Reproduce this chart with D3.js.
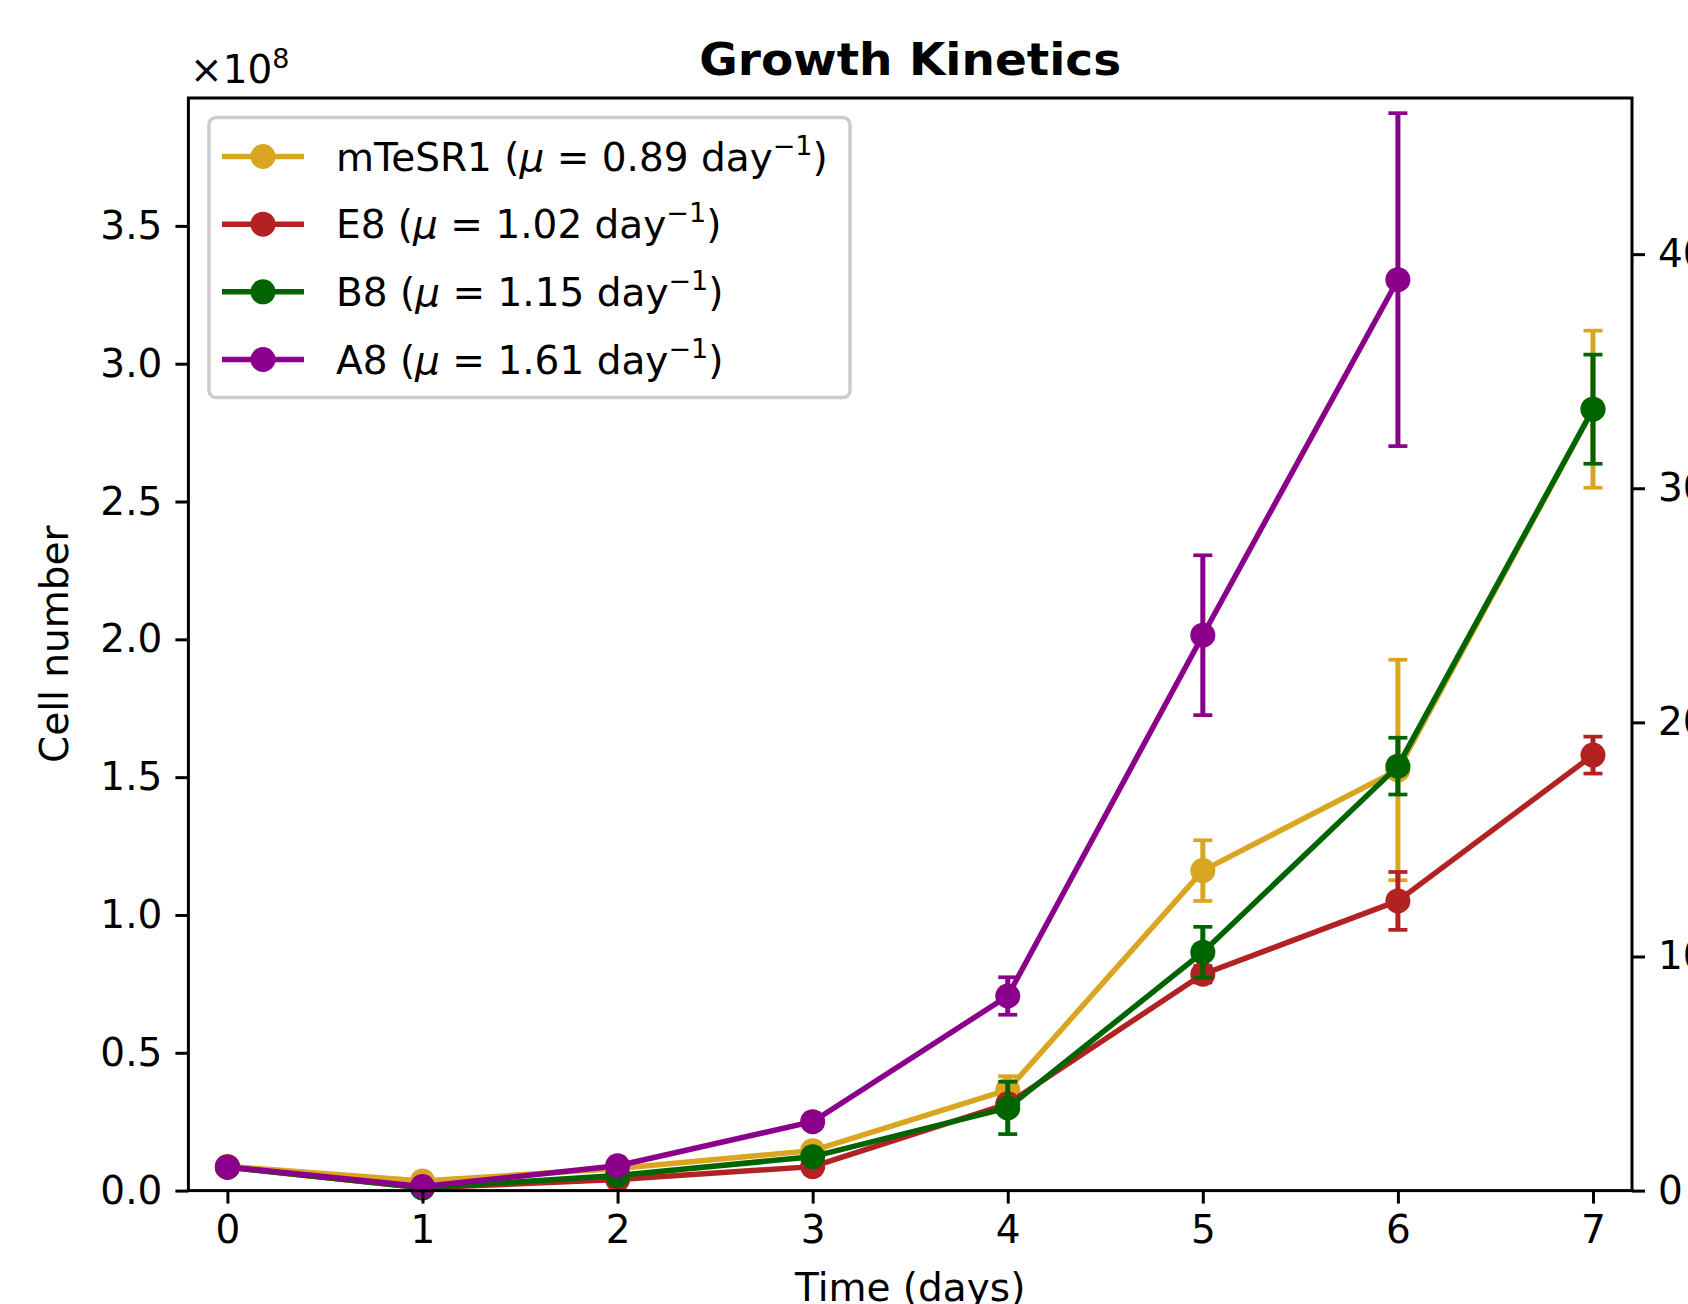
<!DOCTYPE html>
<html>
<head>
<meta charset="utf-8">
<script src="https://cdn.jsdelivr.net/npm/d3@7"></script>
<style>
  html, body { margin: 0; padding: 0; background: #fff; }
  svg { display: block; font-family: "DejaVu Sans", sans-serif; }
</style>
</head>
<body>
<svg id="chart" width="1688" height="1304"></svg>
<script>
// ---- data (cell number in units of 1e8) ----
const days = [0, 1, 2, 3, 4, 5, 6, 7];
const seriesNames = ["mTeSR1", "E8", "B8", "A8"];
const seriesMu = ["0.89", "1.02", "1.15", "1.61"];
const seriesColors = ["#DAA520", "#B22222", "#006400", "#8B008B"];
const mTeSR1Mean = [0.088, 0.035, 0.080, 0.145, 0.365, 1.161, 1.526, 2.835];
const mTeSR1Err  = [0.005, 0.005, 0.005, 0.010, 0.050, 0.110, 0.400, 0.285];
const E8Mean = [0.085, 0.010, 0.040, 0.087, 0.315, 0.785, 1.051, 1.580];
const E8Err  = [0.005, 0.005, 0.005, 0.010, 0.020, 0.030, 0.105, 0.067];
const B8Mean = [0.085, 0.010, 0.055, 0.123, 0.300, 0.865, 1.540, 2.835];
const B8Err  = [0.005, 0.005, 0.005, 0.010, 0.095, 0.092, 0.103, 0.198];
const A8Mean = [0.086, 0.015, 0.090, 0.250, 0.706, 2.015, 3.305];
const A8Err  = [0.005, 0.005, 0.005, 0.010, 0.068, 0.290, 0.604];
const seriesMeans = [mTeSR1Mean, E8Mean, B8Mean, A8Mean];
const seriesErrs = [mTeSR1Err, E8Err, B8Err, A8Err];
const leftTicks = [0, 0.5, 1.0, 1.5, 2.0, 2.5, 3.0, 3.5];
const rightTicks = [0, 10, 20, 30, 40];
const titleText = "Growth Kinetics";
const xLabel = "Time (days)";
const yLabel = "Cell number";

// ---- layout ----
const svg = d3.select("#chart");
const L = 188.4, R = 1632, T = 98, B = 1190.6;
const FS = 39;
const x = d3.scaleLinear().domain([-0.2, 7.2]).range([L, R]);
const y = d3.scaleLinear().domain([0, 3.964]).range([B, T]);
const yR = d3.scaleLinear().domain([0, 46.67]).range([B, T]);

// series
const lineW = 5.5, markerR = 12.5, capHalf = 9.5;
seriesNames.forEach((name, i) => {
  const means = seriesMeans[i], errs = seriesErrs[i], col = seriesColors[i];
  const pts = means.map((m, j) => ({d: days[j], m, e: errs[j]}));
  const g = svg.append("g");
  g.selectAll("line.eb").data(pts).enter().append("line")
    .attr("x1", p => x(p.d)).attr("x2", p => x(p.d))
    .attr("y1", p => y(p.m - p.e)).attr("y2", p => y(p.m + p.e))
    .attr("stroke", col).attr("stroke-width", 5);
  ["top", "bot"].forEach(k => {
    g.selectAll("line.cap" + k).data(pts).enter().append("line")
      .attr("x1", p => x(p.d) - capHalf).attr("x2", p => x(p.d) + capHalf)
      .attr("y1", p => y(k === "top" ? p.m + p.e : p.m - p.e))
      .attr("y2", p => y(k === "top" ? p.m + p.e : p.m - p.e))
      .attr("stroke", col).attr("stroke-width", 3.7);
  });
  g.append("path").datum(pts)
    .attr("d", d3.line().x(p => x(p.d)).y(p => y(p.m)))
    .attr("fill", "none").attr("stroke", col).attr("stroke-width", lineW)
    .attr("stroke-linejoin", "round").attr("stroke-linecap", "square");
  g.selectAll("circle").data(pts).enter().append("circle")
    .attr("cx", p => x(p.d)).attr("cy", p => y(p.m)).attr("r", markerR)
    .attr("fill", col);
});

// axes
const axisStyle = sel => {
  sel.selectAll("text").attr("font-size", FS).attr("font-family", "DejaVu Sans").attr("fill", "#000");
  sel.selectAll("line").attr("stroke", "#000").attr("stroke-width", 3);
  sel.select(".domain").remove();
};
svg.append("g").attr("transform", `translate(0,${B})`)
  .call(d3.axisBottom(x).tickValues(days).tickFormat(d3.format("d")).tickSize(13).tickPadding(12))
  .call(axisStyle);
svg.append("g").attr("transform", `translate(${L},0)`)
  .call(d3.axisLeft(y).tickValues(leftTicks).tickFormat(d3.format(".1f")).tickSize(13).tickPadding(13))
  .call(axisStyle);
svg.append("g").attr("transform", `translate(${R},0)`)
  .call(d3.axisRight(yR).tickValues(rightTicks).tickFormat(d3.format("d")).tickSize(13).tickPadding(13))
  .call(axisStyle);

// frame
svg.append("rect").attr("x", L).attr("y", T).attr("width", R - L).attr("height", B - T)
  .attr("fill", "none").attr("stroke", "#000").attr("stroke-width", 3);

// offset text
const off = svg.append("text").attr("x", 190).attr("y", 83).attr("font-size", FS);
off.append("tspan").text("×10");
off.append("tspan").attr("font-size", 27).attr("dy", -15).text("8");

// title
svg.append("text").attr("x", (L + R) / 2).attr("y", 75).attr("text-anchor", "middle")
  .attr("font-size", 45).attr("font-weight", "bold")
  .attr("textLength", 422).attr("lengthAdjust", "spacingAndGlyphs").text(titleText);

// axis labels
svg.append("text").attr("x", (L + R) / 2).attr("y", 1301).attr("text-anchor", "middle")
  .attr("font-size", FS).text(xLabel);
svg.append("text").attr("transform", `translate(68,${(T + B) / 2}) rotate(-90)`)
  .attr("text-anchor", "middle").attr("font-size", FS).text(yLabel);

// legend
const lg = svg.append("g");
lg.append("rect").attr("x", 209).attr("y", 117.5).attr("width", 641).attr("height", 280)
  .attr("rx", 7).attr("fill", "#fff").attr("fill-opacity", 0.8)
  .attr("stroke", "#cccccc").attr("stroke-width", 3.5);
const rowY = d3.scaleLinear().domain([0, 3]).range([156.5, 359.5]);
seriesNames.forEach((name, i) => {
  const cy = rowY(i), col = seriesColors[i];
  lg.append("line").attr("x1", 222).attr("x2", 304).attr("y1", cy).attr("y2", cy)
    .attr("stroke", col).attr("stroke-width", lineW);
  lg.append("circle").attr("cx", 263).attr("cy", cy).attr("r", markerR).attr("fill", col);
  const t = lg.append("text").attr("x", 336).attr("y", cy + 14).attr("font-size", FS);
  t.append("tspan").text(name + " (");
  t.append("tspan").attr("font-style", "italic").text("μ");
  t.append("tspan").text(" = " + seriesMu[i] + " day");
  t.append("tspan").attr("font-size", 27).attr("dy", -16).text("−1");
  t.append("tspan").attr("dy", 16).text(")");
});
</script>
</body>
</html>
